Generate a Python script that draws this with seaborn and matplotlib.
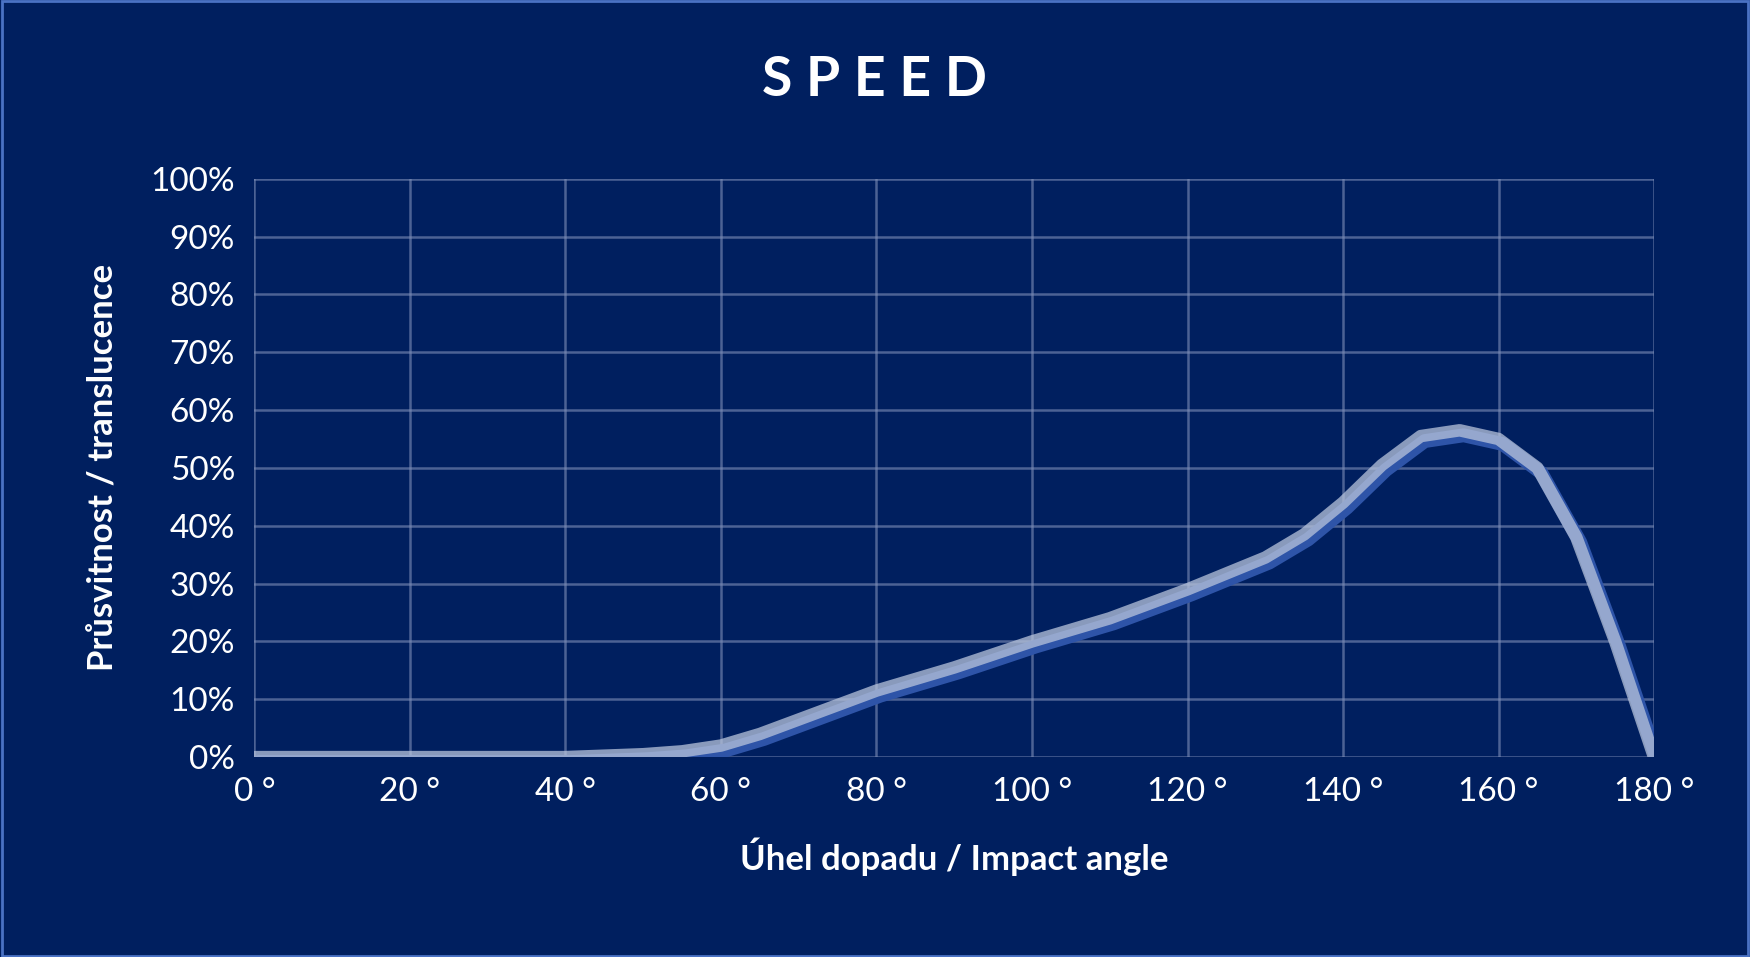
import matplotlib
matplotlib.use('Agg')
import matplotlib.pyplot as plt
import matplotlib.transforms as mtransforms
import seaborn as sns
import pandas as pd
from matplotlib.ticker import FuncFormatter, MultipleLocator

# angle (deg) vs translucence (%)
angle = [0, 20, 40, 50, 55, 60, 65, 70, 75, 80, 90, 100, 110, 120, 130, 135, 140, 145,
         150, 155, 160, 165, 170, 175, 180]
translucence = [0, 0, 0, 0.5, 1, 2, 4, 6.5, 9, 11.5, 15.5, 20, 24, 29, 34.5, 38.5, 44, 50.5,
                55.5, 56.5, 55, 50, 38, 20, 0]

bg = '#001F5F'
df = pd.DataFrame({'angle': angle, 'val': translucence})

sns.set_style('darkgrid')
plt.rcParams['font.family'] = ['Lato', 'DejaVu Sans']

W, H = 1568, 857  # reference measurement space
fig = plt.figure(figsize=(17.5, 9.57), dpi=100, facecolor=bg)
fig.patches.append(plt.Rectangle((0.001, 0.001), 0.998, 0.998, transform=fig.transFigure,
                                 fill=False, edgecolor='#4A72C4', linewidth=2))
ax = fig.add_axes([228 / W, 1 - 678 / H, (1482 - 228) / W, (678 - 160) / H])
ax.set_facecolor(bg)

# shadow line, shifted down-right
shadow = mtransforms.offset_copy(ax.transData, fig=fig, x=4, y=-5, units='dots')
ax.plot(df['angle'], df['val'], color='#2E54A8', linewidth=10, transform=shadow,
        solid_capstyle='round', solid_joinstyle='round')
sns.lineplot(data=df, x='angle', y='val', ax=ax, color='#B8C4DC', alpha=0.75, linewidth=9)

ax.set_xlim(0, 180)
ax.set_ylim(0, 100)
ax.xaxis.set_major_locator(MultipleLocator(20))
ax.yaxis.set_major_locator(MultipleLocator(10))
ax.xaxis.set_major_formatter(FuncFormatter(lambda v, p: f'{int(v)} °'))
ax.yaxis.set_major_formatter(FuncFormatter(lambda v, p: f'{int(v)}%'))
ax.grid(True, color='#8090B8', alpha=0.6, linewidth=1.8)
for s in ax.spines.values():
    s.set_visible(False)
ax.tick_params(colors='white', labelsize=24, length=0, pad=14)

ax.set_xlabel('Úhel dopadu / Impact angle', color='white', fontsize=25,
              fontweight='bold', labelpad=22)
ax.set_ylabel('Průsvitnost / translucence', color='white', fontsize=25,
              fontweight='bold', labelpad=22)
fig.text(0.5, 1 - 72 / H, 'S P E E D', color='white', fontsize=40, fontweight='bold',
         ha='center', va='center')

fig.savefig('out.png', dpi=100, facecolor=bg)
